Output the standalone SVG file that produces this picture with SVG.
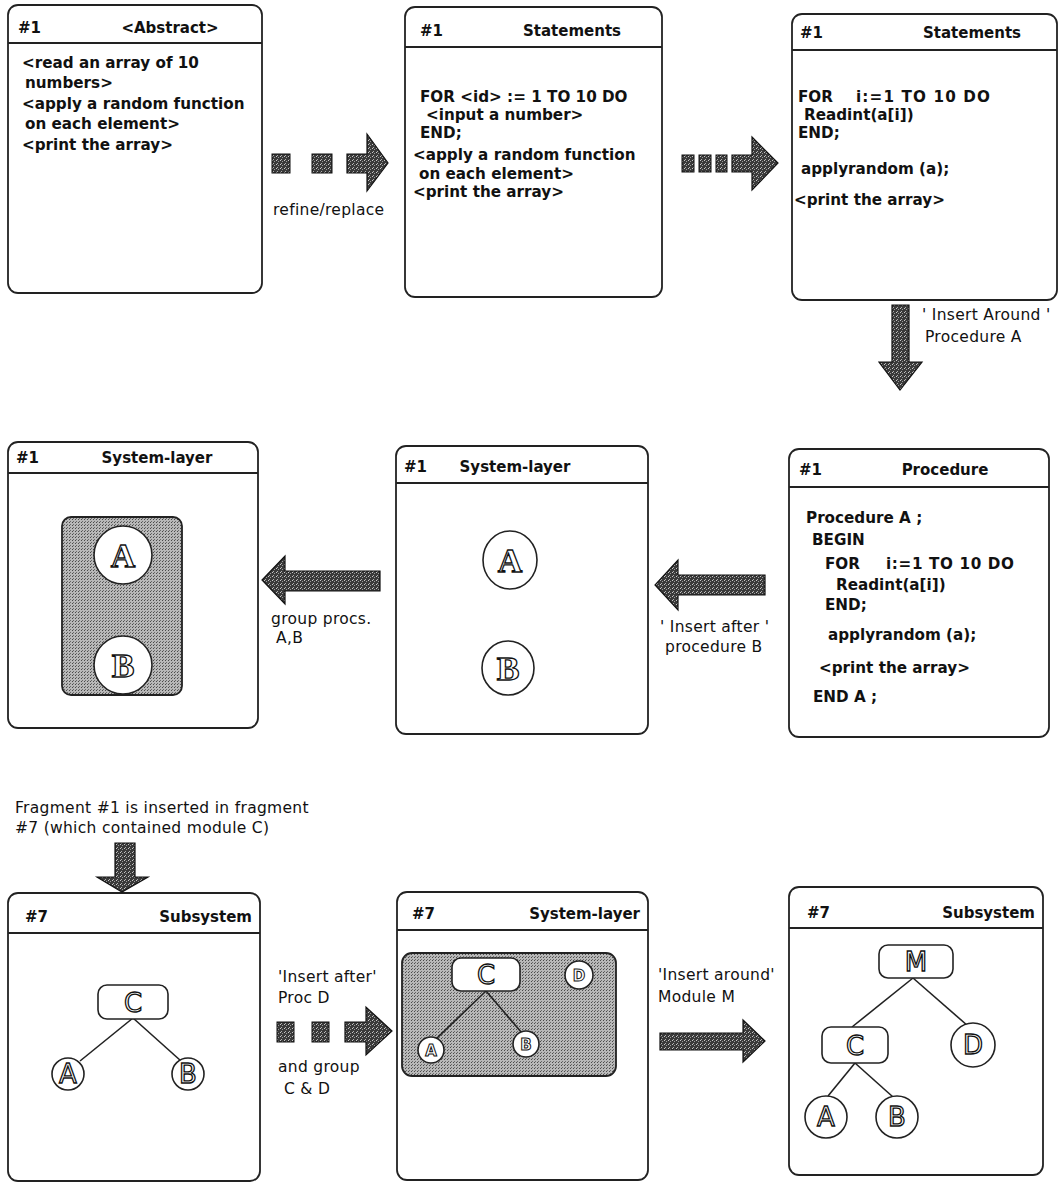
<svg xmlns="http://www.w3.org/2000/svg" width="1062" height="1183" viewBox="0 0 1062 1183">
<style>
.panel{fill:#fff;stroke:#222;stroke-width:1.8}
.hdr{stroke:#222;stroke-width:1.8}
.t{font-family:"DejaVu Sans",sans-serif;font-weight:bold;font-size:15.2px;fill:#111}
.h{font-family:"DejaVu Sans",sans-serif;font-weight:bold;font-size:15px;fill:#111}
.lbl{font-family:"DejaVu Sans",sans-serif;font-size:15.5px;letter-spacing:0.3px;fill:#111}
.arrow{fill:url(#dark);stroke:#111;stroke-width:1.2}
.sq{fill:url(#dark);stroke:#111;stroke-width:1}
.grp{fill:url(#light);stroke:#222;stroke-width:1.8}
.node{fill:#fff;stroke:#222;stroke-width:1.6}
.edge{stroke:#222;stroke-width:1.6;fill:none}
.ls{font-family:"Liberation Serif",serif;font-weight:bold;font-size:34px;fill:#fff;stroke:#111;stroke-width:1.3;text-anchor:middle}
.lt{font-family:"DejaVu Sans",sans-serif;font-size:26px;fill:#fff;stroke:#111;stroke-width:1.3;text-anchor:middle}
.lt2{font-family:"DejaVu Sans",sans-serif;font-size:15px;font-weight:bold;fill:#fff;stroke:#111;stroke-width:1;text-anchor:middle}
</style>
<defs>
<pattern id="dark" width="4" height="4" patternUnits="userSpaceOnUse">
<rect width="4" height="4" fill="#3a3a3a"/>
<rect x="0" y="0" width="1" height="1" fill="#c8c8c8"/>
<rect x="2" y="1" width="1" height="1" fill="#9a9a9a"/>
<rect x="1" y="3" width="1" height="1" fill="#b0b0b0"/>
</pattern>
<pattern id="light" width="3" height="3" patternUnits="userSpaceOnUse">
<rect width="3" height="3" fill="#b8b8b8"/>
<rect x="0" y="0" width="1" height="1" fill="#4a4a4a"/>
<rect x="1" y="2" width="1" height="1" fill="#6a6a6a"/>
</pattern>
</defs>
<rect width="1062" height="1183" fill="#fff"/>

<g id="p1">
<rect class="panel" x="8" y="5" width="254" height="288" rx="10"/>
<line class="hdr" x1="8" y1="43" x2="262" y2="43"/>
<text class="h" x="18" y="33">#1</text>
<text class="h" x="170" y="33" text-anchor="middle">&lt;Abstract&gt;</text>
<text class="t" x="22" y="68">&lt;read an array of 10</text>
<text class="t" x="25" y="88">numbers&gt;</text>
<text class="t" x="22" y="109">&lt;apply a random function</text>
<text class="t" x="25" y="129">on each element&gt;</text>
<text class="t" x="22" y="150">&lt;print the array&gt;</text>
</g>

<g id="p2">
<rect class="panel" x="405" y="7" width="257" height="290" rx="10"/>
<line class="hdr" x1="405" y1="47" x2="662" y2="47"/>
<text class="h" x="420" y="36">#1</text>
<text class="h" x="572" y="36" text-anchor="middle">Statements</text>
<text class="t" x="420" y="102">FOR &lt;id&gt; := 1 TO 10 DO</text>
<text class="t" x="426" y="120">&lt;input a number&gt;</text>
<text class="t" x="420" y="138">END;</text>
<text class="t" x="413" y="160">&lt;apply a random function</text>
<text class="t" x="419" y="179">on each element&gt;</text>
<text class="t" x="413" y="197">&lt;print the array&gt;</text>
</g>

<g id="p3">
<rect class="panel" x="792" y="14" width="265" height="286" rx="10"/>
<line class="hdr" x1="792" y1="50" x2="1057" y2="50"/>
<text class="h" x="800" y="38">#1</text>
<text class="h" x="972" y="38" text-anchor="middle">Statements</text>
<text class="t" x="798" y="102">FOR</text>
<text class="t" x="856" y="102" textLength="134" lengthAdjust="spacing">i:=1 TO 10 DO</text>
<text class="t" x="804" y="120">Readint(a[i])</text>
<text class="t" x="798" y="138">END;</text>
<text class="t" x="801" y="174">applyrandom (a);</text>
<text class="t" x="794" y="205">&lt;print the array&gt;</text>
</g>

<g id="p4">
<rect class="panel" x="8" y="442" width="250" height="286" rx="10"/>
<line class="hdr" x1="8" y1="473" x2="258" y2="473"/>
<text class="h" x="16" y="463">#1</text>
<text class="h" x="157" y="463" text-anchor="middle">System-layer</text>
<rect class="grp" x="62" y="517" width="120" height="178" rx="9"/>
<circle class="node" cx="123" cy="555" r="29"/>
<text class="ls" x="123" y="567">A</text>
<circle class="node" cx="123" cy="665" r="29"/>
<text class="ls" x="123" y="677">B</text>
</g>

<g id="p5">
<rect class="panel" x="396" y="446" width="252" height="288" rx="10"/>
<line class="hdr" x1="396" y1="483" x2="648" y2="483"/>
<text class="h" x="404" y="472">#1</text>
<text class="h" x="515" y="472" text-anchor="middle">System-layer</text>
<ellipse class="node" cx="510" cy="560" rx="27" ry="29"/>
<text class="ls" x="510" y="572">A</text>
<ellipse class="node" cx="508" cy="668" rx="26" ry="27"/>
<text class="ls" x="508" y="680">B</text>
</g>

<g id="p6">
<rect class="panel" x="789" y="449" width="260" height="288" rx="10"/>
<line class="hdr" x1="789" y1="487" x2="1049" y2="487"/>
<text class="h" x="799" y="475">#1</text>
<text class="h" x="945" y="475" text-anchor="middle">Procedure</text>
<text class="t" x="806" y="523">Procedure A ;</text>
<text class="t" x="812" y="545">BEGIN</text>
<text class="t" x="825" y="569">FOR</text>
<text class="t" x="886" y="569" textLength="128" lengthAdjust="spacing">i:=1 TO 10 DO</text>
<text class="t" x="836" y="590">Readint(a[i])</text>
<text class="t" x="825" y="610">END;</text>
<text class="t" x="828" y="640">applyrandom (a);</text>
<text class="t" x="819" y="673">&lt;print the array&gt;</text>
<text class="t" x="813" y="702">END A ;</text>
</g>

<g id="p7">
<rect class="panel" x="8" y="893" width="252" height="288" rx="10"/>
<line class="hdr" x1="8" y1="933" x2="260" y2="933"/>
<text class="h" x="25" y="922">#7</text>
<text class="h" x="252" y="922" text-anchor="end">Subsystem</text>
<line class="edge" x1="133" y1="1018" x2="80" y2="1061"/>
<line class="edge" x1="133" y1="1018" x2="181" y2="1061"/>
<rect class="node" x="98" y="985" width="70" height="34" rx="9"/>
<text class="lt" x="133" y="1012">C</text>
<circle class="node" cx="68" cy="1074" r="16"/>
<text class="lt" x="68" y="1083">A</text>
<circle class="node" cx="188" cy="1074" r="16"/>
<text class="lt" x="188" y="1083">B</text>
</g>

<g id="p8">
<rect class="panel" x="397" y="892" width="251" height="288" rx="10"/>
<line class="hdr" x1="397" y1="930" x2="648" y2="930"/>
<text class="h" x="412" y="919">#7</text>
<text class="h" x="640" y="919" text-anchor="end">System-layer</text>
<rect class="grp" x="402" y="953" width="214" height="123" rx="10"/>
<line class="edge" x1="486" y1="991" x2="436" y2="1039"/>
<line class="edge" x1="486" y1="991" x2="522" y2="1033"/>
<rect class="node" x="452" y="958" width="68" height="33" rx="9"/>
<text class="lt" x="486" y="984">C</text>
<circle class="node" cx="579" cy="975" r="14"/>
<text class="lt2" x="579" y="981">D</text>
<circle class="node" cx="431" cy="1050" r="13"/>
<text class="lt2" x="431" y="1056">A</text>
<circle class="node" cx="526" cy="1044" r="13"/>
<text class="lt2" x="526" y="1050">B</text>
</g>

<g id="p9">
<rect class="panel" x="789" y="887" width="254" height="288" rx="10"/>
<line class="hdr" x1="789" y1="928" x2="1043" y2="928"/>
<text class="h" x="807" y="918">#7</text>
<text class="h" x="1035" y="918" text-anchor="end">Subsystem</text>
<line class="edge" x1="913" y1="978" x2="852" y2="1027"/>
<line class="edge" x1="913" y1="978" x2="968" y2="1026"/>
<line class="edge" x1="855" y1="1063" x2="828" y2="1096"/>
<line class="edge" x1="855" y1="1063" x2="893" y2="1097"/>
<rect class="node" x="879" y="945" width="74" height="33" rx="9"/>
<text class="lt" x="916" y="971">M</text>
<rect class="node" x="822" y="1027" width="66" height="36" rx="9"/>
<text class="lt" x="855" y="1055">C</text>
<circle class="node" cx="973" cy="1045" r="22"/>
<text class="lt" x="973" y="1054">D</text>
<circle class="node" cx="826" cy="1117" r="21"/>
<text class="lt" x="826" y="1126">A</text>
<circle class="node" cx="897" cy="1117" r="21"/>
<text class="lt" x="897" y="1126">B</text>
</g>

<g id="connectors">
<rect class="sq" x="272" y="154" width="18" height="19"/>
<rect class="sq" x="312" y="154" width="20" height="19"/>
<path class="arrow" d="M347,154 H367 V134 L388,163 L367,191 V173 H347 Z"/>
<text class="lbl" x="273" y="215">refine/replace</text>

<rect class="sq" x="682" y="155" width="12" height="17"/>
<rect class="sq" x="699" y="155" width="12" height="17"/>
<rect class="sq" x="716" y="155" width="11" height="17"/>
<path class="arrow" d="M732,155 H752 V137 L778,163 L752,190 V172 H732 Z"/>

<path class="arrow" d="M892,305 H909 V362 H922 L900,390 L879,362 H892 Z"/>
<text class="lbl" x="922" y="320">' Insert Around '</text>
<text class="lbl" x="925" y="342">Procedure A</text>

<path class="arrow" d="M380,571 H285 V556 L262,580 L285,604 V591 H380 Z"/>
<text class="lbl" x="271" y="624">group procs.</text>
<text class="lbl" x="276" y="643">A,B</text>

<path class="arrow" d="M765,575 H678 V560 L655,585 L678,610 V595 H765 Z"/>
<text class="lbl" x="660" y="632">' Insert after '</text>
<text class="lbl" x="665" y="652">procedure B</text>

<text class="lbl" x="15" y="813">Fragment #1 is inserted in fragment</text>
<text class="lbl" x="15" y="833">#7 (which contained module C)</text>
<path class="arrow" d="M115,843 H135 V877 H148 L122,892 L97,877 H115 Z"/>

<text class="lbl" x="278" y="982">'Insert after'</text>
<text class="lbl" x="278" y="1003">Proc D</text>
<rect class="sq" x="277" y="1022" width="17" height="20"/>
<rect class="sq" x="312" y="1022" width="17" height="20"/>
<path class="arrow" d="M345,1022 H366 V1007 L392,1031 L366,1055 V1042 H345 Z"/>
<text class="lbl" x="278" y="1072">and group</text>
<text class="lbl" x="284" y="1094">C &amp; D</text>

<text class="lbl" x="658" y="980">'Insert around'</text>
<text class="lbl" x="658" y="1002">Module M</text>
<path class="arrow" d="M660,1033 H743 V1020 L765,1041 L743,1062 V1050 H660 Z"/>
</g>
</svg>
